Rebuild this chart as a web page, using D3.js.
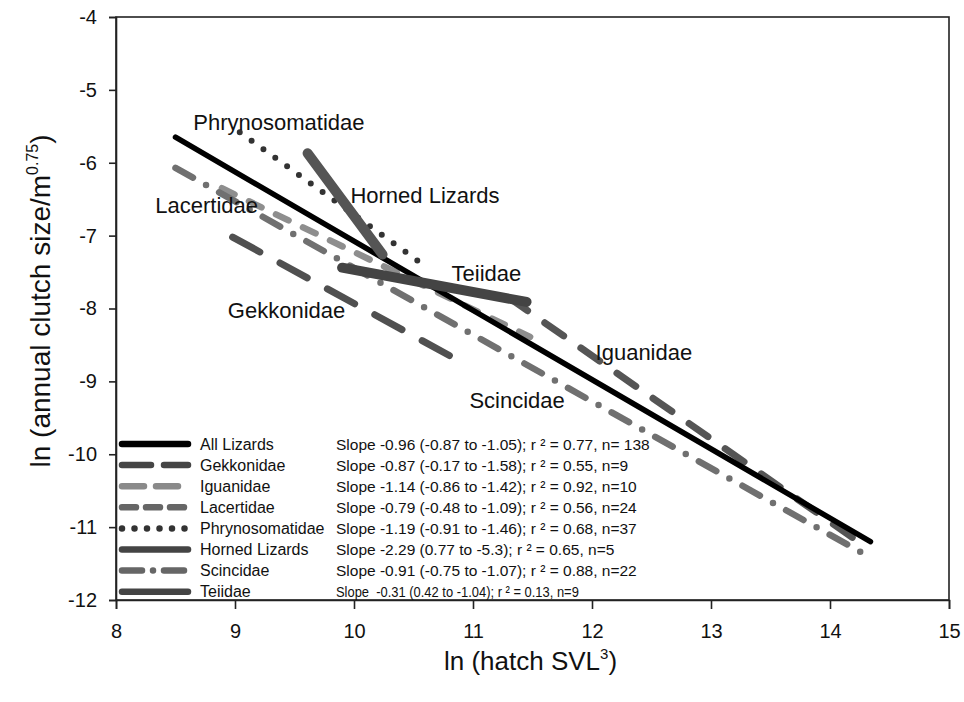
<!DOCTYPE html>
<html>
<head>
<meta charset="utf-8">
<script src="https://cdn.jsdelivr.net/npm/d3@7"></script>
<style>
  body { margin: 0; background: #fff; }
  svg text { font-family: "Liberation Sans", Arial, sans-serif; }
</style>
</head>
<body>
<div id="chart"></div>
<script>

// regression lines (x = ln hatch SVL^3, y = ln clutch/m^0.75)
var seriesNames = ["All Lizards", "Gekkonidae", "Iguanidae", "Lacertidae",
                   "Phrynosomatidae", "Horned Lizards", "Scincidae", "Teiidae"];
var xStart = [8.50, 8.98, 11.30, 8.89, 9.04, 9.61, 8.50, 9.90];
var xEnd   = [14.34, 10.93, 14.30, 11.48, 10.60, 10.24, 14.31, 11.45];
var yStart = [-5.65, -7.02, -7.85, -6.35, -5.58, -5.87, -6.07, -7.44];
var yEnd   = [-11.20, -8.76, -11.27, -8.39, -7.42, -7.26, -11.39, -7.91];

var statsText = [
    "Slope -0.96 (-0.87 to -1.05); r \u00b2 = 0.77, n= 138",
    "Slope -0.87 (-0.17 to -1.58); r \u00b2 = 0.55, n=9",
    "Slope -1.14 (-0.86 to -1.42); r \u00b2 = 0.92, n=10",
    "Slope -0.79 (-0.48 to -1.09); r \u00b2 = 0.56, n=24",
    "Slope -1.19 (-0.91 to -1.46); r \u00b2 = 0.68, n=37",
    "Slope -2.29 (0.77 to -5.3); r \u00b2 = 0.65, n=5",
    "Slope -0.91 (-0.75 to -1.07); r \u00b2 = 0.88, n=22",
    "Slope  -0.31 (0.42 to -1.04); r \u00b2 = 0.13, n=9"
];

var xTicks = [8, 9, 10, 11, 12, 13, 14, 15];
var yTicks = [-4, -5, -6, -7, -8, -9, -10, -11, -12];

// in-plot labels (which series, and where they sit)
var labelNames = ["Phrynosomatidae", "Horned Lizards", "Lacertidae", "Teiidae",
                  "Gekkonidae", "Iguanidae", "Scincidae"];
var labelX = [8.65, 9.97, 8.33, 10.82, 8.94, 12.03, 10.97];
var labelY = [-5.55, -6.55, -6.69, -7.62, -8.13, -8.71, -9.36];

// look of each line: plot and legend sample
var styles = [
    {color: "#000",    legend: "#000",    width: 5.5, dash: null,              cap: "round"},
    {color: "#505050", legend: "#454545", width: 7,   dash: "31 23",           cap: "round", ldash: "29 13"},
    {color: "#555",    legend: "#8a8a8a", width: 7,   dash: "23 21",           cap: "round", ldash: "22 12"},
    {color: "#8e8e8e", legend: "#666",    width: 6.5, dash: "14 16",           cap: "round", ldash: "14 10"},
    {color: "#333",    legend: "#333",    width: 6,   dash: "0 14.6",          cap: "round", ldash: "0 12.5"},
    {color: "#555",    legend: "#444",    width: 10,  dash: null,              cap: "round"},
    {color: "#707070", legend: "#666",    width: 6.5, dash: "20 15 0 15",      cap: "round", ldash: "20 11 0 11"},
    {color: "#444",    legend: "#444",    width: 10,  dash: null,              cap: "round"}
];

var width = 964, height = 702;
var margin = {top: 17, right: 15, bottom: 102, left: 116};
var plotW = width - margin.left - margin.right;
var plotH = height - margin.top - margin.bottom;

var svg = d3.select("#chart").append("svg")
    .attr("width", width)
    .attr("height", height);

var g = svg.append("g")
    .attr("transform", "translate(" + margin.left + "," + margin.top + ")");

var x = d3.scaleLinear().domain([8, 15]).range([0, plotW]);
var y = d3.scaleLinear().domain([-12, -4]).range([plotH, 0]);

// frame
g.append("rect")
    .attr("x", 0).attr("y", 0)
    .attr("width", plotW).attr("height", plotH)
    .attr("fill", "none")
    .attr("stroke", "#222")
    .attr("stroke-width", 1.6);

var xAxis = g.append("g")
    .attr("transform", "translate(0," + plotH + ")")
    .call(d3.axisBottom(x).tickValues(xTicks).tickSize(9).tickPadding(15).tickFormat(d3.format("d")));

var yAxis = g.append("g")
    .call(d3.axisLeft(y).tickValues(yTicks).tickSize(7).tickPadding(12).tickFormat(d3.format("d")));

[xAxis, yAxis].forEach(function(a){
    a.select(".domain").attr("stroke", "#222").attr("stroke-width", 1.6);
    a.selectAll(".tick line").attr("stroke", "#222").attr("stroke-width", 1.6);
    a.selectAll(".tick text")
        .attr("fill", "#111")
        .style("font-size", "20px")
        .style("font-family", "'Liberation Sans', Arial, sans-serif");
});
yAxis.selectAll(".tick text").text(function(d){ return d; });

// axis titles
var xTitle = svg.append("text")
    .attr("x", margin.left + plotW / 2 - 2)
    .attr("y", 670)
    .attr("text-anchor", "middle")
    .attr("fill", "#111")
    .style("font-size", "26px");
xTitle.append("tspan").text("ln (hatch SVL");
xTitle.append("tspan").attr("dy", -11).style("font-size", "15px").text("3");
xTitle.append("tspan").attr("dy", 11).text(")");

var yTitle = svg.append("text")
    .attr("transform", "translate(50," + 301 + ") rotate(-90)")
    .attr("text-anchor", "middle")
    .attr("fill", "#111")
    .style("font-size", "28px");
yTitle.append("tspan").text("ln (annual clutch size/m");
yTitle.append("tspan").attr("dy", -12).style("font-size", "16px").text("0.75");
yTitle.append("tspan").attr("dy", 12).text(")");

// regression lines
var lineData = seriesNames.map(function(name, i){
    return {name: name, x1: xStart[i], x2: xEnd[i], y1: yStart[i], y2: yEnd[i], s: styles[i]};
});

// draw order roughly as in the figure: dashed ones underneath, heavy ones on top
var drawOrder = [1, 3, 6, 2, 4, 0, 5, 7];

g.selectAll(".fit")
    .data(drawOrder.map(function(i){ return lineData[i]; }))
    .enter().append("line")
    .attr("class", "fit")
    .attr("x1", function(d){ return x(d.x1); })
    .attr("y1", function(d){ return y(d.y1); })
    .attr("x2", function(d){ return x(d.x2); })
    .attr("y2", function(d){ return y(d.y2); })
    .attr("stroke", function(d){ return d.s.color; })
    .attr("stroke-width", function(d){ return d.s.width; })
    .attr("stroke-linecap", function(d){ return d.s.cap; })
    .attr("stroke-dasharray", function(d){ return d.s.dash; });

// labels beside the lines
g.selectAll(".lbl")
    .data(labelNames)
    .enter().append("text")
    .attr("class", "lbl")
    .attr("x", function(d, i){ return x(labelX[i]); })
    .attr("y", function(d, i){ return y(labelY[i]); })
    .attr("fill", "#111")
    .style("font-size", "22px")
    .text(function(d){ return d; });

// legend block, bottom left
var legendTop = 444, legendStep = 21.1;
var legend = svg.append("g");
var rows = legend.selectAll(".row")
    .data(lineData)
    .enter().append("g")
    .attr("class", "row")
    .attr("transform", function(d, i){ return "translate(0," + (legendTop + i * legendStep) + ")"; });

rows.append("line")
    .attr("x1", 122).attr("x2", 188)
    .attr("y1", 0).attr("y2", 0)
    .attr("stroke", function(d){ return d.s.legend; })
    .attr("stroke-width", 6.5)
    .attr("stroke-linecap", "round")
    .attr("stroke-dasharray", function(d){ return d.s.ldash || null; });

rows.append("text")
    .attr("x", 200).attr("y", 5.5)
    .attr("fill", "#111")
    .style("font-size", "16px")
    .text(function(d){ return d.name; });

var stats = rows.append("text")
    .attr("transform", "translate(336,5.5)")
    .attr("fill", "#111")
    .attr("xml:space", "preserve")
    .style("white-space", "pre")
    .style("font-size", "15.5px")
    .text(function(d, i){ return statsText[i]; });

// last row is set in a narrower face in the original: squeeze it sideways
stats.filter(function(d, i){ return i === 7; })
    .attr("transform", function(){
        var w = this.getComputedTextLength();
        return "translate(336,5.5) scale(" + (243 / w) + ",1)";
    });

</script>
</body>
</html>
